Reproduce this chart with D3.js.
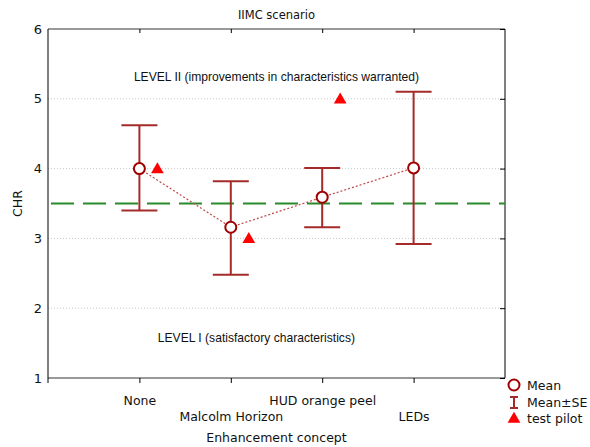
<!DOCTYPE html>
<html>
<head>
<meta charset="utf-8">
<script src="https://cdn.jsdelivr.net/npm/d3@7"></script>
<style>
body{margin:0;background:#fff}
svg text{font-family:"DejaVu Sans",Arial,sans-serif;fill:#111}
svg text.note{font-family:"Liberation Sans",Arial,sans-serif}
</style>
</head>
<body>
<div id="chart"></div>
<script>
const categories=["None","Malcolm Horizon","HUD orange peel","LEDs"];
const means=[4.0,3.16,3.59,4.01];
const seLow=[3.40,2.48,3.16,2.92];
const seHigh=[4.62,3.82,4.01,5.10];
const pilot=[4,3,5,null];
const yTicks=[1,2,3,4,5,6];
const refLine=3.5;
const notes=[{text:"LEVEL II (improvements in characteristics warranted)",cat:1.5,y:5.25},
             {text:"LEVEL I (satisfactory characteristics)",cat:1.28,y:1.51}];

const opt={width:590,height:447,left:48,right:505,top:29,bottom:378}

const svg=d3.select("#chart").append("svg")
  .attr("width",opt.width)
  .attr("height",opt.height)

const x=d3.scalePoint().domain(categories).range([opt.left,opt.right]).padding(1)
const y=d3.scaleLinear().domain([1,6]).range([opt.bottom,opt.top])
const xIdx=d3.scaleLinear().domain([0,categories.length-1]).range([x(categories[0]),x(categories[categories.length-1])])

// grid
svg.append("g").selectAll("line")
  .data(yTicks.filter(d=>d>1&&d<6))
  .enter().append("line")
  .attr("x1",opt.left).attr("x2",opt.right)
  .attr("y1",d=>y(d)).attr("y2",d=>y(d))
  .attr("stroke","#c8c8c8").attr("stroke-dasharray","1,2")

// frame
svg.append("line").attr("x1",opt.left).attr("x2",opt.right).attr("y1",opt.top).attr("y2",opt.top)
  .attr("stroke","#999").attr("stroke-width",2)
svg.append("line").attr("x1",opt.left).attr("x2",opt.right).attr("y1",opt.bottom).attr("y2",opt.bottom)
  .attr("stroke","#999").attr("stroke-width",2)
svg.append("line").attr("x1",opt.left).attr("x2",opt.left).attr("y1",opt.top).attr("y2",opt.bottom)
  .attr("stroke","#000")
svg.append("line").attr("x1",opt.right).attr("x2",opt.right).attr("y1",opt.top).attr("y2",opt.bottom)
  .attr("stroke","#000")

// axes
const yAxis=svg.append("g")
  .attr("transform","translate("+opt.left+",0)")
  .call(d3.axisLeft(y).tickValues(yTicks).tickSize(0).tickPadding(6).tickFormat(d3.format("d")))
yAxis.select(".domain").remove()
yAxis.selectAll("text").attr("font-size","13px")

const yRight=svg.append("g")
  .attr("transform","translate("+opt.right+",0)")
  .call(d3.axisLeft(y).tickValues(yTicks).tickSize(5).tickFormat(""))
yRight.select(".domain").remove()

const xTop=svg.append("g")
  .attr("transform","translate(0,"+opt.top+")")
  .call(d3.axisBottom(x).tickSize(4).tickFormat(""))
xTop.select(".domain").remove()

const xAxis=svg.append("g")
  .attr("transform","translate(0,"+opt.bottom+")")
  .call(d3.axisBottom(x).tickSize(5).tickPadding(0))
xAxis.select(".domain").remove()
xAxis.selectAll("text")
  .attr("font-size","12.5px")
  .attr("dy",(d,i)=>i%2==0?"1.75em":"3.05em")
svg.append("line").attr("x1",opt.left).attr("x2",opt.left).attr("y1",opt.bottom).attr("y2",opt.bottom+5).attr("stroke","#000")

svg.append("text")
  .attr("x",(opt.left+opt.right)/2).attr("y",442)
  .attr("text-anchor","middle").attr("font-size","12.5px")
  .text("Enhancement concept")

svg.append("text")
  .attr("transform","translate(22,"+((opt.top+opt.bottom)/2)+") rotate(-90)")
  .attr("text-anchor","middle").attr("font-size","12.5px")
  .text("CHR")

svg.append("text")
  .attr("x",(opt.left+opt.right)/2).attr("y",19)
  .attr("text-anchor","middle").attr("font-size","11.5px")
  .text("IIMC scenario")

// annotations
svg.selectAll(".note")
  .data(notes)
  .enter().append("text")
  .attr("class","note")
  .attr("x",d=>xIdx(d.cat)).attr("y",d=>y(d.y))
  .attr("text-anchor","middle").attr("font-size","12.1px")
  .text(d=>d.text)

// reference line
svg.append("line")
  .attr("x1",opt.left+3).attr("x2",opt.right)
  .attr("y1",y(refLine)).attr("y2",y(refLine))
  .attr("stroke","#2a8a2a").attr("stroke-width",2).attr("stroke-dasharray","23,9")

// connecting line
svg.append("path")
  .datum(means)
  .attr("fill","none")
  .attr("stroke","#c04848").attr("stroke-width",1.2).attr("stroke-dasharray","2,2")
  .attr("d",d3.line().x((d,i)=>x(categories[i])).y(d=>y(d)))

// error bars
const eb=svg.append("g").attr("stroke","#a52a2a").attr("stroke-width",2)
eb.selectAll(".v").data(categories).enter().append("line")
  .attr("x1",d=>x(d)).attr("x2",d=>x(d))
  .attr("y1",(d,i)=>y(seLow[i])).attr("y2",(d,i)=>y(seHigh[i]))
eb.selectAll(".hi").data(categories).enter().append("line")
  .attr("x1",d=>x(d)-18).attr("x2",d=>x(d)+18)
  .attr("y1",(d,i)=>y(seHigh[i])).attr("y2",(d,i)=>y(seHigh[i]))
eb.selectAll(".lo").data(categories).enter().append("line")
  .attr("x1",d=>x(d)-18).attr("x2",d=>x(d)+18)
  .attr("y1",(d,i)=>y(seLow[i])).attr("y2",(d,i)=>y(seLow[i]))

// means
svg.selectAll(".mean").data(means).enter().append("circle")
  .attr("cx",(d,i)=>x(categories[i])).attr("cy",d=>y(d))
  .attr("r",5.5).attr("fill","#fff").attr("stroke","#a00000").attr("stroke-width",2)

// pilot
const tri=d3.symbol().type(d3.symbolTriangle).size(70)
svg.selectAll(".pilot").data(pilot.map((v,i)=>({v,c:categories[i]})).filter(d=>d.v!=null))
  .enter().append("path")
  .attr("d",tri)
  .attr("transform",d=>"translate("+(x(d.c)+18)+","+(y(d.v)+1)+")")
  .attr("fill","#ff0000")

// legend
const lg=svg.append("g").attr("transform","translate(514,0)")
lg.append("circle").attr("cx",0).attr("cy",385).attr("r",5.5).attr("fill","#fff").attr("stroke","#a00000").attr("stroke-width",2)
lg.append("path").attr("d","M-4,397H4M0,397V408M-4,408H4").attr("stroke","#a52a2a").attr("stroke-width",2).attr("fill","none")
lg.append("path").attr("d",tri).attr("transform","translate(0,419)").attr("fill","#ff0000")
lg.selectAll("text").data(["Mean","Mean±SE","test pilot"]).enter().append("text")
  .attr("x",13).attr("y",(d,i)=>390+i*16.5)
  .attr("font-size","12.5px")
  .text(d=>d)
</script>
</body>
</html>
